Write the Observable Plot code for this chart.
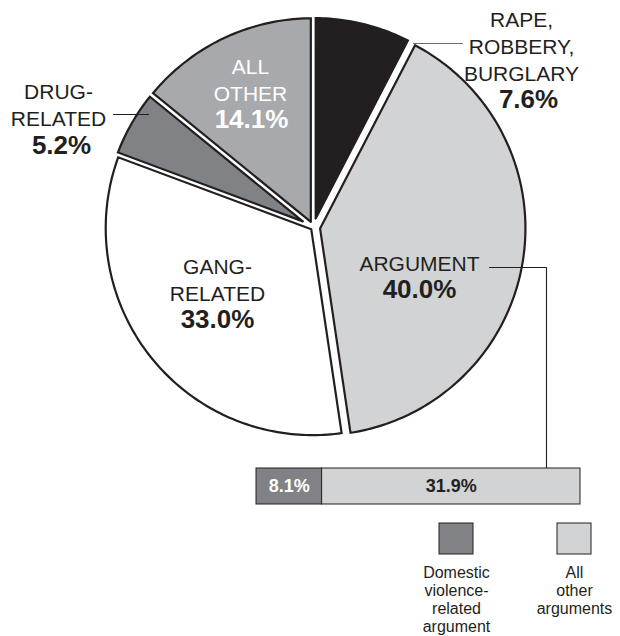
<!DOCTYPE html>
<html>
<head>
<meta charset="utf-8">
<script src="https://cdn.jsdelivr.net/npm/d3@7"></script>
<script src="https://cdn.jsdelivr.net/npm/@observablehq/plot@0.6"></script>
<style>
  html, body { margin: 0; padding: 0; background: #fff; }
  #chart { position: relative; width: 620px; height: 636px; overflow: hidden; background: #fff; }
  #chart > svg { position: absolute; }
</style>
</head>
<body>
<div id="chart"></div>
<script>
// ---------- data ----------
const categories = ["RAPE, ROBBERY, BURGLARY", "ARGUMENT", "GANG-RELATED", "DRUG-RELATED", "ALL OTHER"];
const labelLines = [["RAPE,", "ROBBERY,", "BURGLARY"], ["ARGUMENT"], ["GANG-", "RELATED"], ["DRUG-", "RELATED"], ["ALL", "OTHER"]];
const values = [7.6, 40.0, 33.0, 5.2, 14.1];

const argParts = ["Domestic violence-related argument", "All other arguments"];
const argLegendLines = [["Domestic", "violence-", "related", "argument"], ["All", "other", "arguments"]];
const argValues = [8.1, 31.9];

// ---------- styles / layout ----------
const ink = "#231f20";
const sliceColors = ["#231f20", "#d1d3d4", "#ffffff", "#808285", "#a7a9ac"];
const partColors = ["#808285", "#d1d3d4"];
const font = "Liberation Sans, Arial, Helvetica, sans-serif";
const cx = 313, cy = 227, R = 207, pad = 1.6;
const explode = [2.5, 5, 1, 2.5, 2.5];
const labelLayout = [
  {x: 521, y: 80,  px: 528, py: 107, fill: ink},
  {x: 419, y: 270, px: 419, py: 297, fill: ink},
  {x: 217, y: 300, px: 217, py: 327, fill: ink},
  {x: 58,  y: 125, px: 61,  py: 153, fill: ink},
  {x: 250, y: 100, px: 251, py: 127, fill: "#ffffff"}
];
const leaders = [
  {pts: [[413, 43], [462, 43]], stroke: "#6d6e71"},
  {pts: [[113, 114], [148, 114]], stroke: ink},
  {pts: [[489, 267], [546, 267], [546, 468]], stroke: ink}
];

// ---------- pie geometry from values ----------
const total = d3.sum(values);
let acc = 0;
const slices = categories.map((c, i) => {
  const a0 = acc / total * 2 * Math.PI;
  acc += values[i];
  const a1 = acc / total * 2 * Math.PI;
  return {c, i, v: values[i], a0, a1};
});

function slicePoints(s) {
  const mid = (s.a0 + s.a1) / 2, half = (s.a1 - s.a0) / 2;
  const e = explode[s.i];
  const ox = cx + e * Math.sin(mid), oy = cy - e * Math.cos(mid);
  const ad = pad / Math.sin(half);
  const pts = [[ox + ad * Math.sin(mid), oy - ad * Math.cos(mid)]];
  const d = Math.asin(pad / R);
  const t0 = s.a0 + d, t1 = s.a1 - d;
  const n = Math.max(2, Math.ceil((t1 - t0) / (Math.PI / 180)));
  for (let k = 0; k <= n; k++) {
    const t = t0 + (t1 - t0) * k / n;
    pts.push([ox + R * Math.sin(t), oy - R * Math.cos(t)]);
  }
  pts.push(pts[0]);
  return pts.map(([x, y]) => ({x, y, key: s.c}));
}

const labelData = slices.map(s => ({
  name: labelLines[s.i].join("\n"),
  pct: s.v.toFixed(1) + "%",
  ...labelLayout[s.i]
}));

const pie = Plot.plot({
  width: 620, height: 636, margin: 0,
  style: {fontFamily: font, background: "#fff"},
  x: {domain: [0, 620], range: [0, 620], axis: null},
  y: {domain: [0, 636], range: [0, 636], axis: null},
  marks: [
    ...slices.map(s => Plot.line(slicePoints(s), {
      x: "x", y: "y", fill: sliceColors[s.i], stroke: ink, strokeWidth: 2.2,
      strokeLinejoin: "miter", strokeMiterlimit: 6
    })),
    ...leaders.map(l => Plot.line(l.pts, {x: d => d[0], y: d => d[1], stroke: l.stroke, strokeWidth: 1.1})),
    ...[ink, "#ffffff"].flatMap(col => {
      const rows = labelData.filter(d => d.fill === col);
      return [
        Plot.text(rows, {x: "x", y: "y", text: "name", lineAnchor: "bottom", lineHeight: 27 / 21,
          fontSize: 21, fill: col, textAnchor: "middle"}),
        Plot.text(rows, {x: "px", y: "py", text: "pct", lineAnchor: "bottom",
          fontSize: 26, fontWeight: "bold", fill: col, textAnchor: "middle"})
      ];
    })
  ]
});
pie.style.left = "0px"; pie.style.top = "0px";

// ---------- argument breakdown bar ----------
let run = 0;
const argData = argParts.map((p, i) => {
  const start = run; run += argValues[i];
  return {part: p, value: argValues[i], start, end: run, label: argValues[i].toFixed(1) + "%"};
});
const bar = Plot.plot({
  width: 326, height: 38, margin: 1,
  style: {fontFamily: font, background: "transparent", overflow: "visible"},
  x: {domain: [0, d3.sum(argValues)], axis: null},
  color: {domain: argParts, range: partColors},
  marks: [
    Plot.barX(argData, {x1: "start", x2: "end", fill: "part", stroke: ink, strokeWidth: 1}),
    Plot.text(argData.slice(0, 1), {x: d => (d.start + d.end) / 2, text: "label", fontSize: 18, fontWeight: "bold", fill: "#ffffff"}),
    Plot.text(argData.slice(1), {x: d => (d.start + d.end) / 2, text: "label", fontSize: 18, fontWeight: "bold", fill: ink})
  ]
});
bar.style.left = "255px"; bar.style.top = "467px";

// ---------- legend ----------
const legend = Plot.plot({
  width: 236, height: 114, marginTop: 1, marginBottom: 82, marginLeft: 0, marginRight: 0,
  style: {fontFamily: font, background: "transparent", overflow: "visible"},
  x: {domain: argParts, paddingInner: 0.712, paddingOuter: 0.356, axis: null},
  color: {domain: argParts, range: partColors},
  marks: [
    Plot.cell(argParts, {x: d => d, fill: d => d, stroke: ink, strokeWidth: 1}),
    Plot.text(argParts, {x: d => d, text: (d, i) => argLegendLines[i].join("\n"),
      frameAnchor: "bottom", lineAnchor: "top", dy: 10.2, lineHeight: 1.13,
      fontSize: 16, fill: ink})
  ]
});
legend.style.left = "397px"; legend.style.top = "522px";

const chart = document.getElementById("chart");
chart.append(pie, bar, legend);
</script>
</body>
</html>
